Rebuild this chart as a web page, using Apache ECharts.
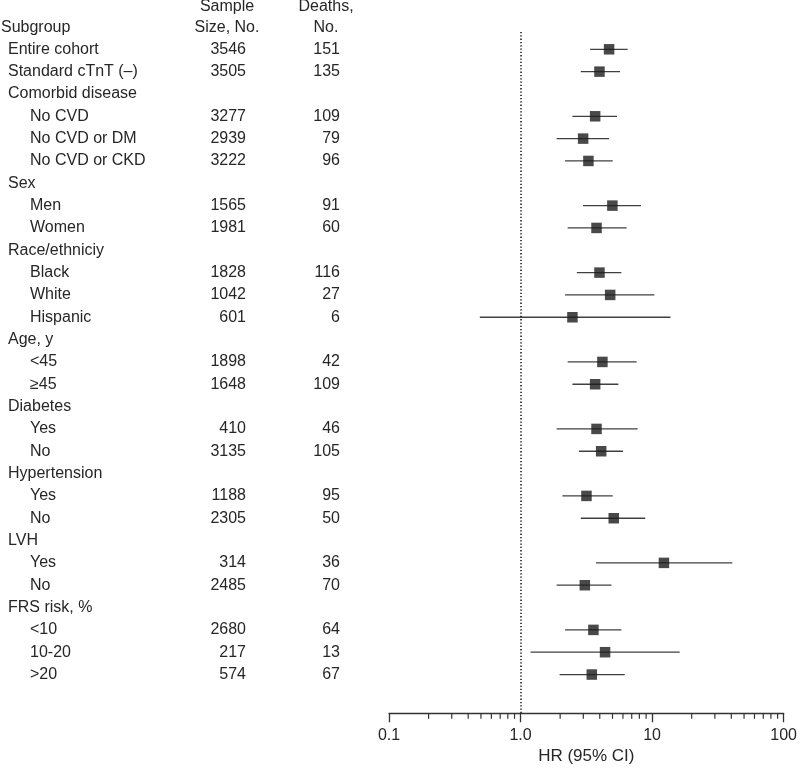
<!DOCTYPE html>
<html>
<head>
<meta charset="utf-8">
<script src="https://cdn.jsdelivr.net/npm/echarts@6/dist/echarts.min.js"></script>
<style>
html,body{margin:0;padding:0;background:#fff;}
#chart{width:800px;height:773px;}
</style>
</head>
<body>
<div id="chart"></div>
<script>
// ---- data ----
var subgroups = ['Entire cohort','Standard cTnT (–)','Comorbid disease','No CVD','No CVD or DM','No CVD or CKD','Sex','Men','Women','Race/ethniciy','Black','White','Hispanic','Age, y','<45','≥45','Diabetes','Yes','No','Hypertension','Yes','No','LVH','Yes','No','FRS risk, %','<10','10-20','>20'];
var levels = [1,1,1,2,2,2,1,2,2,1,2,2,2,1,2,2,1,2,2,1,2,2,1,2,2,1,2,2,2];
var sampleSize = [3546,3505,null,3277,2939,3222,null,1565,1981,null,1828,1042,601,null,1898,1648,null,410,3135,null,1188,2305,null,314,2485,null,2680,217,574];
var deaths = [151,135,null,109,79,96,null,91,60,null,116,27,6,null,42,109,null,46,105,null,95,50,null,36,70,null,64,13,67];
var hr = [4.71,3.98,null,3.69,2.99,3.28,null,4.99,3.78,null,3.98,4.80,2.48,null,4.19,3.69,null,3.78,4.10,null,3.17,5.11,null,12.3,3.08,null,3.58,4.39,3.48];
var ciLow = [3.38,2.87,null,2.48,1.88,2.18,null,2.98,2.28,null,2.68,2.18,0.49,null,2.28,2.48,null,1.88,2.78,null,2.08,2.87,null,3.75,1.88,null,2.18,1.19,1.98];
var ciHigh = [6.52,5.71,null,5.41,4.71,5.02,null,8.23,6.41,null,5.84,10.4,13.8,null,7.63,5.54,null,7.77,6.01,null,5.02,8.87,null,40.7,4.91,null,5.84,16.2,6.19];
var headerSubgroup = 'Subgroup';
var headerSample = ['Sample','Size, No.'];
var headerDeaths = ['Deaths,','No.'];
var xTicks = [0.1,1,10,100];
var xTickLabels = ['0.1','1.0','10','100'];
var minorTicks = [0.2,0.3,0.4,0.5,0.6,0.7,0.8,0.9,2,3,4,5,6,7,8,9,20,30,40,50,60,70,80,90];
var xAxisTitle = 'HR (95% CI)';

// ---- layout ----
var FONT = '"Liberation Sans", Arial, sans-serif';
var TXT = '#262626';
var rowH = 22.33, firstRowY = 49.3, plotTop = 32, axisY = 713.3;
var plotLeft = 389, plotRight = 785.3;
var yMaxVal = (axisY - firstRowY) / rowH;
var yMinMain = (plotTop - firstRowY) / rowH;
var yMinTable = (0 - firstRowY) / rowH;
var hdr1 = (7 - firstRowY) / rowH, hdr2 = (28 - firstRowY) / rowH;
var indentX = {0: 1, 1: 8, 2: 30};
var sampleRightX = 246, deathsRightX = 340, sampleCenterX = 227, deathsCenterX = 326;

// table text items
var tableItems = [];
tableItems.push([indentX[0], hdr2, headerSubgroup, 'left']);
tableItems.push([sampleCenterX, hdr1, headerSample[0], 'center']);
tableItems.push([sampleCenterX, hdr2, headerSample[1], 'center']);
tableItems.push([deathsCenterX, hdr1, headerDeaths[0], 'center']);
tableItems.push([deathsCenterX, hdr2, headerDeaths[1], 'center']);
subgroups.forEach(function (s, i) {
  tableItems.push([indentX[levels[i]], i, s, 'left']);
  if (sampleSize[i] != null) tableItems.push([sampleRightX, i, String(sampleSize[i]), 'right']);
  if (deaths[i] != null) tableItems.push([deathsRightX, i, String(deaths[i]), 'right']);
});

var ciData = [], ptData = [];
hr.forEach(function (v, i) {
  if (v == null) return;
  ciData.push([ciLow[i], ciHigh[i], i]);
  ptData.push([v, i]);
});

var chart = echarts.init(document.getElementById('chart'), null, {renderer: 'canvas'});
chart.setOption({
  animation: false,
  backgroundColor: '#fff',
  grid: [
    {left: plotLeft, width: plotRight - plotLeft, top: plotTop, height: axisY - plotTop},
    {left: 0, width: plotLeft, top: 0, height: axisY}
  ],
  xAxis: [
    {
      type: 'log', logBase: 10, min: 0.1, max: 100, gridIndex: 0, position: 'bottom',
      axisLine: {show: true, onZero: false, lineStyle: {color: '#333', width: 1.3}},
      axisTick: {show: true, length: 9, inside: false, lineStyle: {color: '#333', width: 1.3}},
      minorTick: {show: false},
      splitLine: {show: false},
      axisLabel: {
        show: true, margin: 14, fontSize: 16, fontFamily: FONT, color: TXT,
        formatter: function (v) {
          for (var k = 0; k < xTicks.length; k++) if (Math.abs(v - xTicks[k]) < 1e-9 * Math.max(1, v)) return xTickLabels[k];
          return '';
        }
      },
      name: xAxisTitle, nameLocation: 'middle', nameGap: 35,
      nameTextStyle: {fontSize: 17, fontFamily: FONT, color: TXT}
    },
    {type: 'value', min: 0, max: plotLeft, gridIndex: 1, show: false}
  ],
  yAxis: [
    {type: 'value', inverse: true, min: yMinMain, max: yMaxVal, gridIndex: 0, show: false},
    {type: 'value', inverse: true, min: yMinTable, max: yMaxVal, gridIndex: 1, show: false}
  ],
  series: [
    {
      type: 'line', xAxisIndex: 0, yAxisIndex: 0, data: [], silent: true,
      markLine: {
        symbol: 'none', silent: true, label: {show: false},
        lineStyle: {type: [1.3, 2], color: '#111', width: 1.5},
        data: [{xAxis: 1}]
      }
    },
    {
      type: 'custom', xAxisIndex: 0, yAxisIndex: 0, clip: false, silent: true,
      data: minorTicks.map(function (v) { return [v, yMaxVal]; }),
      renderItem: function (params, api) {
        var p = api.coord([api.value(0), api.value(1)]);
        return {type: 'line', shape: {x1: p[0], y1: p[1], x2: p[0], y2: p[1] + 5.5}, style: {stroke: '#333', lineWidth: 1.2}};
      }
    },
    {
      type: 'custom', xAxisIndex: 0, yAxisIndex: 0, clip: false, silent: true,
      data: ciData,
      encode: {x: [0, 1], y: 2},
      renderItem: function (params, api) {
        var a = api.coord([api.value(0), api.value(2)]);
        var b = api.coord([api.value(1), api.value(2)]);
        return {type: 'line', shape: {x1: a[0], y1: a[1], x2: b[0], y2: b[1]}, style: {stroke: '#404040', lineWidth: 1.3}};
      }
    },
    {
      type: 'scatter', xAxisIndex: 0, yAxisIndex: 0, silent: true,
      symbol: 'rect', symbolSize: 10.5,
      itemStyle: {color: '#1c1c1c'},
      data: ptData
    },
    {
      type: 'custom', xAxisIndex: 1, yAxisIndex: 1, clip: false, silent: true,
      data: tableItems,
      renderItem: function (params, api) {
        var item = tableItems[params.dataIndex];
        var p = api.coord([item[0], item[1]]);
        return {
          type: 'text', x: p[0], y: p[1],
          style: {text: item[2], textAlign: item[3], textVerticalAlign: 'middle', fill: TXT, font: '16px ' + FONT}
        };
      }
    }
  ]
});
</script>
</body>
</html>
